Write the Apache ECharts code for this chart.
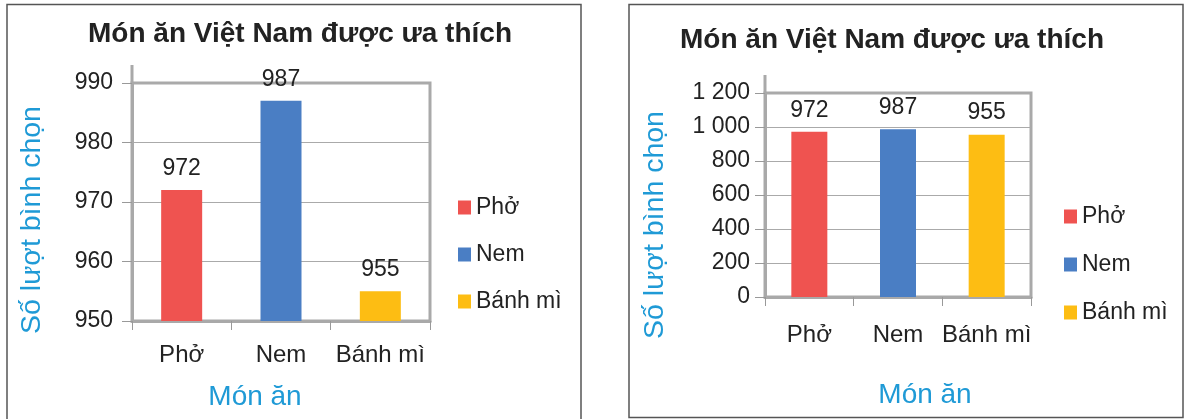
<!DOCTYPE html>
<html>
<head>
<meta charset="utf-8">
<script src="https://cdn.jsdelivr.net/npm/echarts@6/dist/echarts.min.js"></script>
<style>
html,body{margin:0;padding:0;background:#fff;}
#c{width:1189px;height:419px;}
</style>
</head>
<body>
<div id="c"></div>
<script>
const chartTitle = 'Món ăn Việt Nam được ưa thích';
const categories = ['Phở', 'Nem', 'Bánh mì'];
const votes = [972, 987, 955];
const yTitle = 'Số lượt bình chọn';
const xTitle = 'Món ăn';
const leftAxisMin = 950, leftAxisMax = 990, leftAxisStep = 10;
const rightAxisMin = 0, rightAxisMax = 1200, rightAxisStep = 200;

const barColors = ['#ef5350', '#4a7ec4', '#fdbd13'];
const FONT = '"Liberation Sans", Arial, Helvetica, sans-serif';
const gridLine = '#a9a9a9';
const nameColor = '#1f9ad6';
const textColor = '#222';

const grids = [
  {left: 132, top: 83, width: 298, height: 238},
  {left: 765, top: 93, width: 266, height: 204}
];

function thousands(v) {
  return String(v).replace(/\B(?=(\d{3})+(?!\d))/g, ' ');
}

const chart = echarts.init(document.getElementById('c'), null, {renderer: 'canvas'});

function xAxisFor(g, labelMargin, nameGap, namePad) {
  return {
    gridIndex: g, type: 'category', data: categories,
    axisLine: {show: true, lineStyle: {color: gridLine, width: 3}},
    axisTick: {show: true, length: 9, lineStyle: {color: '#999', width: 1}},
    axisLabel: {interval: 0, fontSize: 24, color: textColor, fontFamily: FONT, margin: labelMargin},
    name: xTitle, nameLocation: 'middle', nameGap: nameGap,
    nameTextStyle: {fontSize: 28, color: nameColor, fontFamily: FONT, padding: namePad}
  };
}
function yAxisFor(g, min, max, step, labelMargin, nameGap, namePad, fmt) {
  return {
    gridIndex: g, type: 'value', min: min, max: max, interval: step,
    axisLine: {show: true, lineStyle: {color: gridLine, width: 3}},
    axisTick: {show: true, length: 10, lineStyle: {color: '#999', width: 1}},
    axisLabel: {fontSize: 23, color: textColor, fontFamily: FONT, margin: labelMargin, formatter: fmt},
    splitLine: {show: true, lineStyle: {color: '#aaa', width: 1}},
    name: yTitle, nameLocation: 'middle', nameGap: nameGap,
    nameTextStyle: {fontSize: 28.5, color: nameColor, fontFamily: FONT, padding: namePad}
  };
}

const series = [];
[0, 1].forEach(function (g) {
  categories.forEach(function (cat, i) {
    series.push({
      type: 'bar', name: cat, xAxisIndex: g, yAxisIndex: g,
      data: categories.map(function (_, j) { return j === i ? votes[j] : null; }),
      barWidth: g === 0 ? 41 : 36, barGap: '-100%',
      itemStyle: {color: barColors[i]},
      label: {show: true, position: 'top', distance: 10, fontSize: 23, color: textColor, fontFamily: FONT}
    });
  });
});

function legendFor(left, top, gap) {
  return {
    data: categories, orient: 'vertical', left: left, top: top,
    icon: 'rect', itemWidth: 13, itemHeight: 14, itemGap: gap,
    textStyle: {fontSize: 23, color: textColor, fontFamily: FONT}
  };
}

const option = {
  animation: false,
  textStyle: {fontFamily: FONT},
  title: [
    {text: chartTitle, left: 88, top: 20, padding: 0, textStyle: {fontSize: 28, fontWeight: 'bold', color: '#222', fontFamily: FONT}},
    {text: chartTitle, left: 680, top: 26, padding: 0, textStyle: {fontSize: 28, fontWeight: 'bold', color: '#222', fontFamily: FONT}}
  ],
  legend: [legendFor(453, 191, 24), legendFor(1059, 200, 25)],
  grid: grids.map(function (g) {
    return Object.assign({show: true, borderColor: gridLine, borderWidth: 3, containLabel: false}, g);
  }),
  xAxis: [xAxisFor(0, 22, 62, [0, 52, 0, 0]), xAxisFor(1, 26, 84, [0, 0, 0, 54])],
  yAxis: [
    yAxisFor(0, leftAxisMin, leftAxisMax, leftAxisStep, 19, 85, [0, 36, 0, 0], null),
    yAxisFor(1, rightAxisMin, rightAxisMax, rightAxisStep, 15, 95, [0, 60, 0, 0], thousands)
  ],
  series: series,
  graphic: [
    {type: 'rect', z: -10, silent: true, shape: {x: 7, y: 4.5, width: 574, height: 440},
     style: {fill: 'none', stroke: '#555', lineWidth: 1.5}},
    {type: 'rect', z: -10, silent: true, shape: {x: 629, y: 4.5, width: 554, height: 413},
     style: {fill: 'none', stroke: '#555', lineWidth: 1.5}},
    {type: 'line', z: 5, silent: true,
     shape: {x1: grids[0].left, y1: grids[0].top - 18, x2: grids[0].left, y2: grids[0].top},
     style: {stroke: gridLine, lineWidth: 3}},
    {type: 'line', z: 5, silent: true,
     shape: {x1: grids[1].left, y1: grids[1].top - 18, x2: grids[1].left, y2: grids[1].top},
     style: {stroke: gridLine, lineWidth: 3}}
  ]
};
chart.setOption(option);
</script>
</body>
</html>
